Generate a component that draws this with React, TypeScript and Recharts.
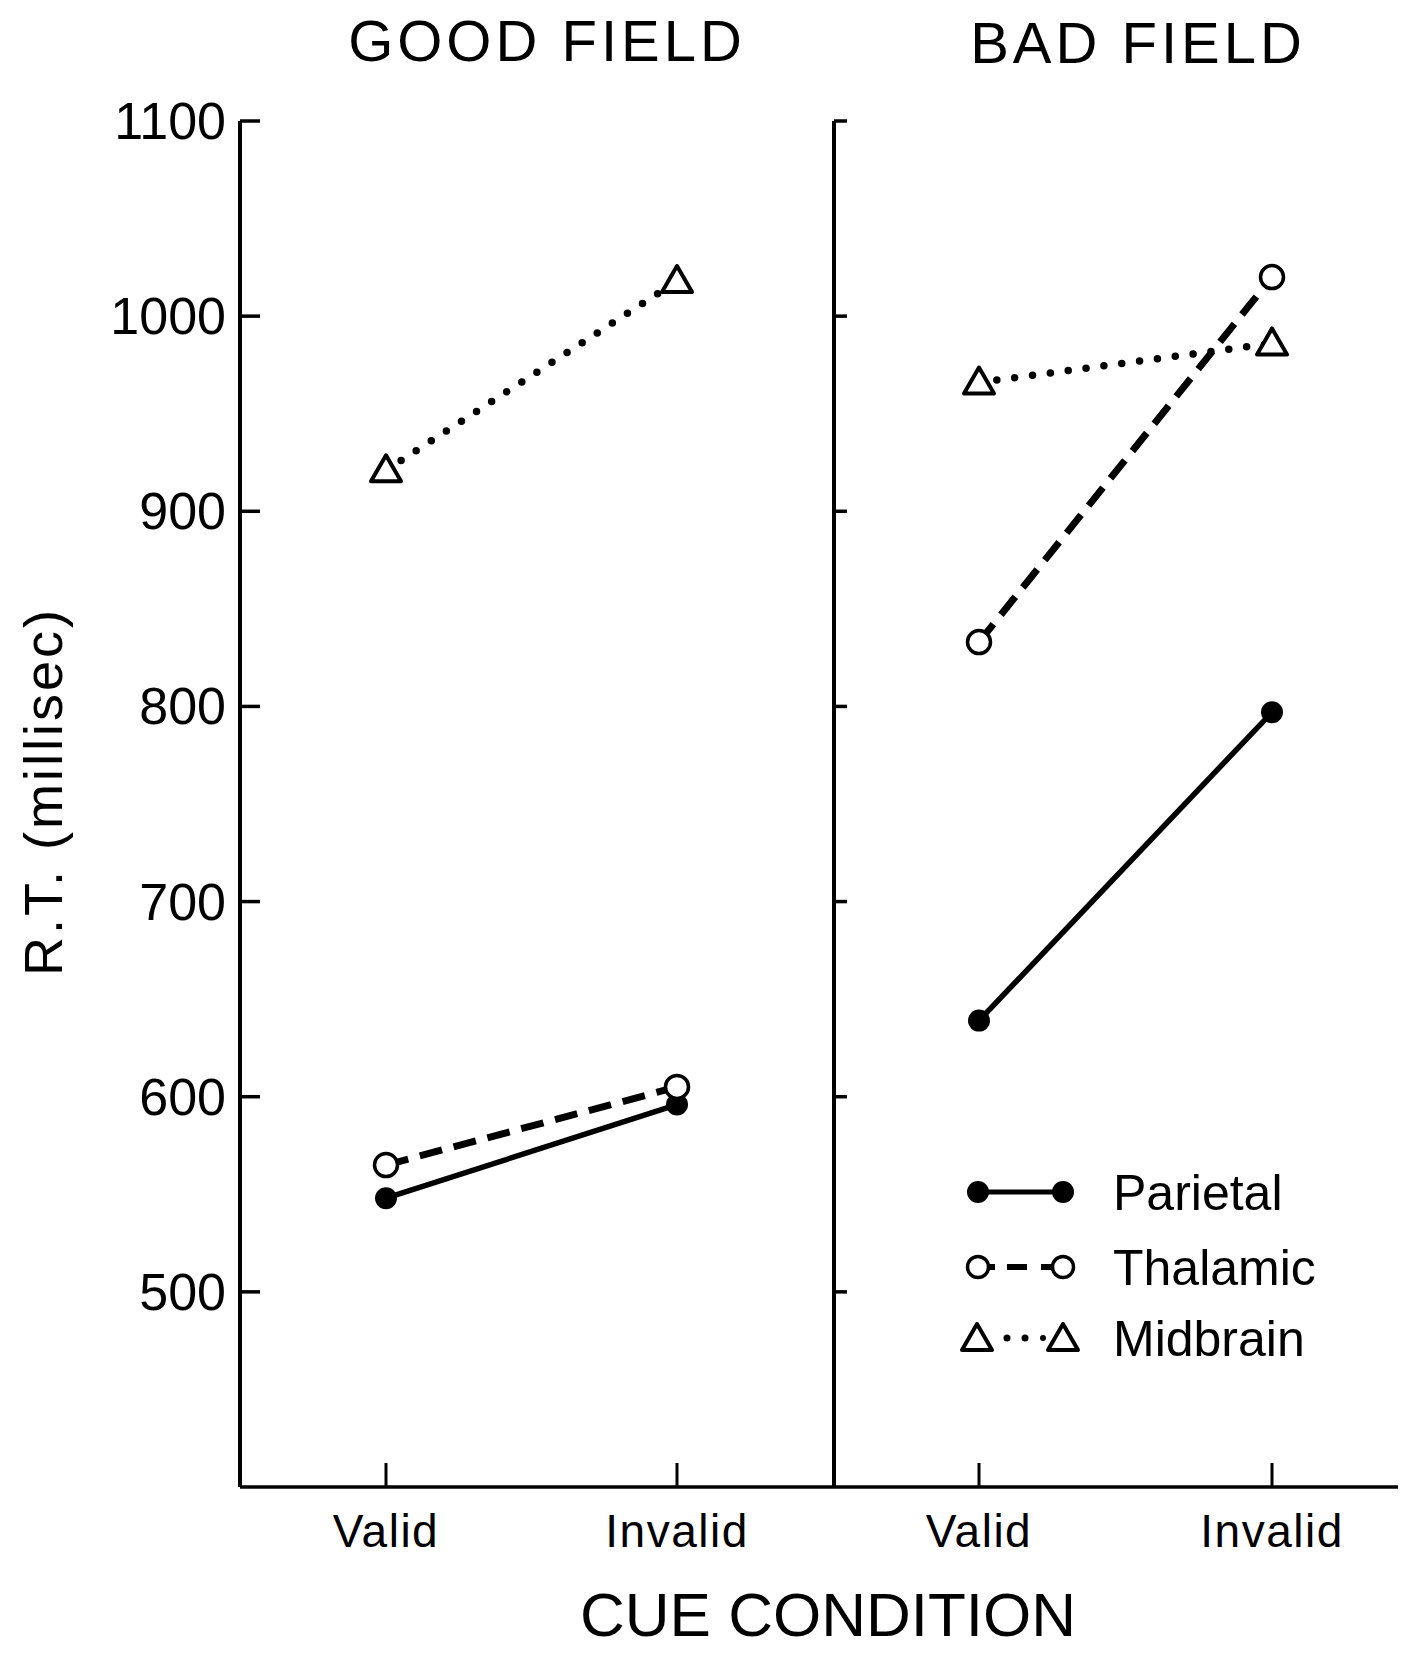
import React from 'react';
import { LineChart, Line, XAxis, YAxis, Legend } from 'recharts';

// values (R.T. in msec)
const cues = ['Valid', 'Invalid'];
const goodParietal = [548, 596];
const goodThalamic = [565, 605];
const goodMidbrain = [921, 1018];
const badParietal = [639, 797];
const badThalamic = [833, 1020];
const badMidbrain = [966, 986];
const yTicks = [500, 600, 700, 800, 900, 1000, 1100];
const seriesKeys = ['parietal', 'thalamic', 'midbrain'];
const seriesNames = ['Parietal', 'Thalamic', 'Midbrain'];

const FONT = "'Liberation Sans', Arial, sans-serif";
const INK = '#000';

const makeRows = (p: number[], t: number[], m: number[]) =>
  cues.map((cue, i) => ({ cue, parietal: p[i], thalamic: t[i], midbrain: m[i] }));
const goodData = makeRows(goodParietal, goodThalamic, goodMidbrain);
const badData = makeRows(badParietal, badThalamic, badMidbrain);

// markers
const FilledDot = (props: any) => (
  <circle key={`f-${props.index}`} cx={props.cx} cy={props.cy} r={11} fill={INK} />
);
const OpenDot = (props: any) => (
  <circle key={`o-${props.index}`} cx={props.cx} cy={props.cy} r={11.5} fill="#fff" stroke={INK} strokeWidth={3.5} />
);
const triPath = (cx: number, cy: number) => `M${cx},${cy - 15} L${cx + 15},${cy + 11} L${cx - 15},${cy + 11} Z`;
const TriDot = (props: any) => (
  <path key={`t-${props.index}`} d={triPath(props.cx, props.cy)} fill="#fff" stroke={INK} strokeWidth={4} strokeLinejoin="round" />
);

// y ticks point into the plot, labels only on the left panel
const LeftYTick = ({ x, y, payload }: any) => (
  <g>
    <line x1={x} y1={y} x2={x + 20} y2={y} stroke={INK} strokeWidth={3.5} />
    <text x={x - 14} y={y} textAnchor="end" dominantBaseline="central" fontSize={52} fontFamily={FONT} fill={INK}>
      {payload.value}
    </text>
  </g>
);
const RightYTick = ({ x, y }: any) => (
  <line x1={x} y1={y} x2={x + 13} y2={y} stroke={INK} strokeWidth={3.5} />
);
const CueTick = ({ x, y, payload }: any) => (
  <g>
    <line x1={x} y1={y} x2={x} y2={y - 24} stroke={INK} strokeWidth={3} />
    <text x={x} y={y + 60} textAnchor="middle" fontSize={46} fontFamily={FONT} fill={INK} letterSpacing={1.5}>
      {payload.value}
    </text>
  </g>
);

const LegendKey = ({ payload }: any) => (
  <svg width={360} height={210}>
    {(payload || []).map((entry: any) => {
      const i = seriesKeys.indexOf(entry.dataKey);
      const cy = [32, 107, 178][i];
      return (
        <g key={entry.dataKey}>
          {i === 0 && (
            <g>
              <line x1={23} y1={cy} x2={108} y2={cy} stroke={INK} strokeWidth={5} />
              <circle cx={23} cy={cy} r={11} fill={INK} />
              <circle cx={108} cy={cy} r={11} fill={INK} />
            </g>
          )}
          {i === 1 && (
            <g>
              <line x1={33} y1={cy} x2={40} y2={cy} stroke={INK} strokeWidth={6} />
              <line x1={52} y1={cy} x2={72} y2={cy} stroke={INK} strokeWidth={6} />
              <line x1={86} y1={cy} x2={98} y2={cy} stroke={INK} strokeWidth={6} />
              <circle cx={23} cy={cy} r={10.5} fill="#fff" stroke={INK} strokeWidth={3.5} />
              <circle cx={108} cy={cy} r={10.5} fill="#fff" stroke={INK} strokeWidth={3.5} />
            </g>
          )}
          {i === 2 && (
            <g>
              <circle cx={52} cy={cy} r={3.5} fill={INK} />
              <circle cx={70} cy={cy} r={3.5} fill={INK} />
              <circle cx={88} cy={cy} r={3} fill={INK} />
              <path d={triPath(22, cy + 1)} fill="#fff" stroke={INK} strokeWidth={4} strokeLinejoin="round" />
              <path d={triPath(108, cy + 1)} fill="#fff" stroke={INK} strokeWidth={4} strokeLinejoin="round" />
            </g>
          )}
          <text x={158} y={cy + 18} fontSize={50} fontFamily={FONT} fill={INK}>
            {entry.value}
          </text>
        </g>
      );
    })}
  </svg>
);

function Series() {
  return [
    <Line key="p" dataKey="parietal" name={seriesNames[0]} stroke={INK} strokeWidth={5.5}
      dot={FilledDot} activeDot={false} isAnimationActive={false} />,
    <Line key="t" dataKey="thalamic" name={seriesNames[1]} stroke={INK} strokeWidth={7} strokeDasharray="23 12"
      dot={OpenDot} activeDot={false} isAnimationActive={false} />,
    <Line key="m" dataKey="midbrain" name={seriesNames[2]} stroke={INK} strokeWidth={7.5} strokeDasharray="0 18"
      strokeLinecap="round" dot={TriDot} activeDot={false} isAnimationActive={false} />,
  ];
}

export default function App() {
  return (
    <div style={{ position: 'relative', width: 1397, height: 1647, background: '#fff', fontFamily: FONT }}>
      <div style={{ position: 'absolute', left: 0, top: 0 }}>
        <LineChart width={826} height={1579} data={goodData} margin={{ top: 113, right: 0, left: 0, bottom: 0 }}>
          <XAxis dataKey="cue" height={100} padding={{ left: 146, right: 157 }} interval={0}
            tick={CueTick} tickLine={false} tickSize={0} tickMargin={0} axisLine={{ stroke: INK, strokeWidth: 3.5 }} />
          <YAxis type="number" domain={[400, 1100]} ticks={yTicks} width={232} interval={0}
            tick={LeftYTick} tickLine={false} tickSize={0} tickMargin={0} axisLine={{ stroke: INK, strokeWidth: 4 }} />
          {Series()}
        </LineChart>
      </div>
      <div style={{ position: 'absolute', left: 806, top: 0 }}>
        <LineChart width={584} height={1579} data={badData} margin={{ top: 113, right: 0, left: 0, bottom: 0 }}>
          <XAxis dataKey="cue" height={100} padding={{ left: 145, right: 126 }} interval={0}
            tick={CueTick} tickLine={false} tickSize={0} tickMargin={0} axisLine={{ stroke: INK, strokeWidth: 3.5 }} />
          <YAxis type="number" domain={[400, 1100]} ticks={yTicks} width={20} interval={0}
            tick={RightYTick} tickLine={false} tickSize={0} tickMargin={0} axisLine={{ stroke: INK, strokeWidth: 4 }} />
          {Series()}
          <Legend layout="vertical" align="center" verticalAlign="middle" content={LegendKey}
            wrapperStyle={{ left: 141, top: 1152, width: 360 }} />
        </LineChart>
      </div>
      <svg width={1397} height={1647} style={{ position: 'absolute', left: 0, top: 0, pointerEvents: 'none' }}>
        <text x={539} y={53} textAnchor="middle" fontSize={58} fontFamily={FONT} letterSpacing={4} fill={INK}>GOOD FIELD</text>
        <text x={1130} y={55} textAnchor="middle" fontSize={58} fontFamily={FONT} letterSpacing={4} fill={INK}>BAD FIELD</text>
        <text transform="translate(53.5, 968) rotate(-90)" fontSize={54} fontFamily={FONT} letterSpacing={3} fill={INK}>R.T. (millisec)</text>
        <text x={820} y={1628} textAnchor="middle" fontSize={62} fontFamily={FONT} fill={INK}>CUE CONDITION</text>
      </svg>
    </div>
  );
}
